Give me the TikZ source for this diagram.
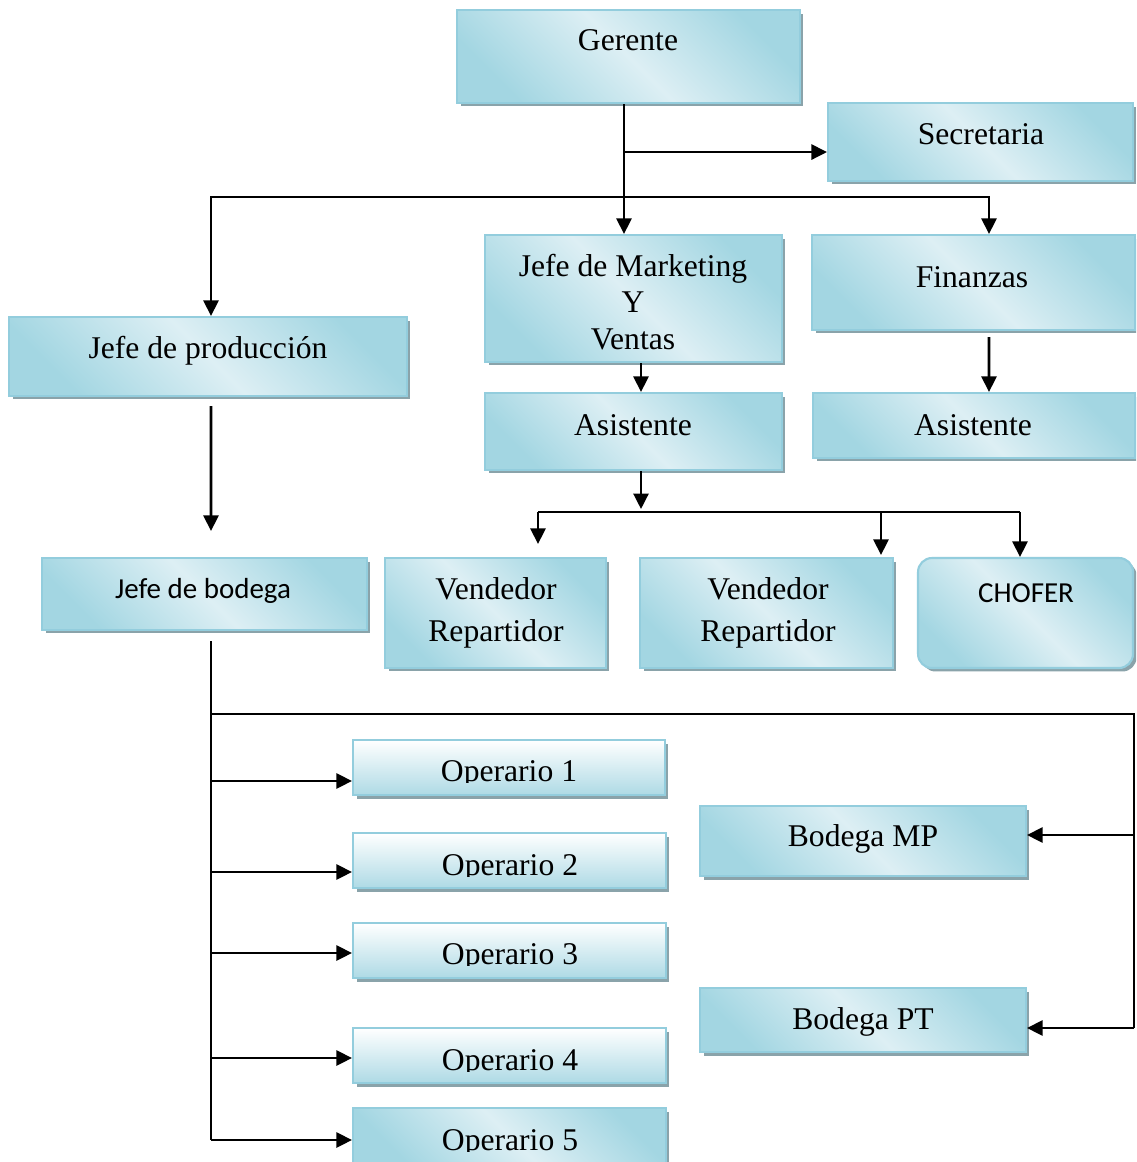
\documentclass[tikz,border=0pt]{standalone}
\usepackage{fontspec}
\setmainfont{Liberation Serif}
\newfontfamily\calib{Carlito}
\usetikzlibrary{calc,shadows,arrows.meta}
\definecolor{bxborder}{HTML}{93CDDD}
\definecolor{bxdark}{HTML}{A3D6E2}
\definecolor{bxlight}{HTML}{DDEFF4}
\definecolor{opbottom}{HTML}{AEDAE5}
\definecolor{shad}{HTML}{8AA3AA}
\tikzset{
  box/.style={draw=bxborder, line width=1.2pt, top color=bxdark, bottom color=bxdark,
    middle color=bxlight, shading angle=-45, inner sep=0pt,
    general shadow={fill=shad, shadow xshift=0.07cm, shadow yshift=-0.07cm}},
  opbox/.style={box, top color=white, bottom color=opbottom, shading angle=0},
  txt/.style={font=\fontsize{18}{21}\selectfont, inner sep=0pt, anchor=base},
  ctxt/.style={font=\calib\fontsize{16.5}{20}\selectfont, inner sep=0pt, anchor=base},
  arr/.style={-{Triangle[length=0.31cm,width=0.3cm]}, line width=1.5pt},
  ln/.style={line width=1.5pt, line join=miter},
}
\begin{document}
\begin{tikzpicture}[x=0.02cm, y=-0.02cm]
\fill[white] (0,0) rectangle (1136,1162);
\clip (0,0) rectangle (1136,1162);
% boxes
\node[box, minimum width=6.86cm, minimum height=1.86cm] (ger) at (628.5,56.5) {};
\node[box, minimum width=6.1cm, minimum height=1.56cm] (sec) at (980.5,142) {};
\node[box, minimum width=5.94cm, minimum height=2.54cm] (mk) at (633.5,298.5) {};
\node[box, minimum width=6.46cm, minimum height=1.9cm] (fin) at (973.5,282.5) {};
\node[box, minimum width=7.96cm, minimum height=1.58cm] (jp) at (208,356.5) {};
\node[box, minimum width=5.94cm, minimum height=1.54cm] (as1) at (633.5,431.5) {};
\node[box, minimum width=6.44cm, minimum height=1.3cm] (as2) at (974,425.5) {};
\node[box, minimum width=6.5cm, minimum height=1.44cm] (jb) at (204.5,594) {};
\node[box, minimum width=4.42cm, minimum height=2.2cm] (vr1) at (495.5,613) {};
\node[box, minimum width=5.06cm, minimum height=2.2cm] (vr2) at (766.5,613) {};
\node[box, rounded corners=0.28cm, minimum width=4.3cm, minimum height=2.2cm] (ch) at (1025.5,613) {};
\node[opbox, minimum width=6.24cm, minimum height=1.1cm] (op1) at (509,767.5) {};
\node[opbox, minimum width=6.26cm, minimum height=1.1cm] (op2) at (509.5,860.5) {};
\node[opbox, minimum width=6.26cm, minimum height=1.1cm] (op3) at (509.5,950.5) {};
\node[opbox, minimum width=6.26cm, minimum height=1.1cm] (op4) at (509.5,1055.5) {};
\node[box, minimum width=6.26cm, minimum height=1.12cm] (op5) at (509.5,1136) {};
\node[box, minimum width=6.52cm, minimum height=1.4cm] (bmp) at (863,841) {};
\node[box, minimum width=6.52cm, minimum height=1.28cm] (bpt) at (863,1020) {};
% texts
\node[txt] (t-ger) at (628,51) {Gerente};
\node[txt] (t-sec) at (981,145) {Secretaria};
\node[txt, anchor=center, align=center] (t-mk) at (633,302) {Jefe de Marketing\\Y\\Ventas};
\node[txt] (t-fin) at (972,287) {Finanzas};
\node[txt] (t-jp) at (208,358) {Jefe de producción};
\node[txt] (t-as1) at (633,435) {Asistente};
\node[txt] (t-as2) at (973,435) {Asistente};
\node[ctxt] (t-jb) at (203,598) {Jefe de bodega};
\node[txt, anchor=center, align=center, font=\fontsize{18}{23.8}\selectfont] (t-vr1) at (496,613) {Vendedor\\Repartidor};
\node[txt, anchor=center, align=center, font=\fontsize{18}{23.8}\selectfont] (t-vr2) at (768,613) {Vendedor\\Repartidor};
\node[ctxt] (t-ch) at (1026,602) {CHOFER};
\node[txt] (t-bmp) at (863,846) {Bodega MP};
\node[txt] (t-bpt) at (863,1029) {Bodega PT};
% operario labels, cut at the baseline as in the reference
\foreach \n/\x/\y in {1/509/781, 2/510/875, 3/510/964, 4/510/1070, 5/510/1150}{
  \begin{scope}
    \coordinate (cut\n) at (0,\y+1);
    \clip (op\n.north west) rectangle (op\n.east |- cut\n);
    \node[txt] (t-op\n) at (\x,\y) {Operario \n};
  \end{scope}
}
% connectors top
\coordinate (g0) at ($(ger.south)+(-4.5,0)$);
\draw[arr] (g0) -- (g0 |- mk.north);
\coordinate (gs) at ($(g0)+(0,48)$);
\draw[arr] (gs) -- (gs -| sec.west);
\coordinate (gb) at ($(g0)+(0,93)$);
\draw[arr] (gb) -| ($(jp.north)+(3,0)$);
\draw[arr] (gb) -| ($(fin.north)+(15.5,0)$);
\draw[arr] ($(mk.south)+(7.5,0)$) -- ($(as1.north)+(7.5,0)$);
\draw[arr] ($(fin.south)+(15.5,6)$) -- ($(as2.north)+(15,0)$);
\draw[arr] ($(jp.south)+(3,9)$) -- ($(jb.north)+(6.5,-26)$);
% marketing branch
\coordinate (a0) at ($(as1.south)+(7.5,0)$);
\draw[arr] (a0) -- ++(0,38);
\coordinate (ab) at ($(a0)+(0,41)$);
\coordinate (ab1) at ($(ab -| vr1.north)+(42.5,0)$);
\coordinate (ab2) at ($(ab -| vr2.north)+(114.5,0)$);
\coordinate (ab3) at ($(ab -| ch.north)+(-5.5,0)$);
\draw[ln] (ab1) -- (ab3);
\draw[arr] (ab1) -- ($(vr1.north)+(42.5,-13)$);
\draw[arr] (ab2) -- ($(vr2.north)+(114.5,-2)$);
\draw[arr] (ab3) -- ($(ch.north)+(-5.5,0)$);
% bodega branch
\coordinate (b0) at ($(jb.south)+(6.5,10)$);
\coordinate (bh) at ($(b0)+(0,73)$);
\coordinate (br) at ($(bh -| bmp.east)+(107,0)$);
\draw[ln] (b0) -- ($(b0 |- op5.west)+(0,4)$);
\draw[arr] ($(b0 |- op1.west)+(0,13.5)$) -- ($(op1.west)+(0,13.5)$);
\draw[arr] ($(b0 |- op2.west)+(0,11.5)$) -- ($(op2.west)+(0,11.5)$);
\draw[arr] ($(b0 |- op3.west)+(0,2.5)$) -- ($(op3.west)+(0,2.5)$);
\draw[arr] ($(b0 |- op4.west)+(0,2.5)$) -- ($(op4.west)+(0,2.5)$);
\draw[arr] ($(b0 |- op5.west)+(0,4)$) -- ($(op5.west)+(0,4)$);
\draw[ln] (bh) -- (br) -- ($(br |- bpt.east)+(0,8)$);
\draw[arr] ($(br |- bmp.east)+(0,-6)$) -- ($(bmp.east)+(0,-6)$);
\draw[arr] ($(br |- bpt.east)+(0,8)$) -- ($(bpt.east)+(0,8)$);
\end{tikzpicture}
\end{document}
